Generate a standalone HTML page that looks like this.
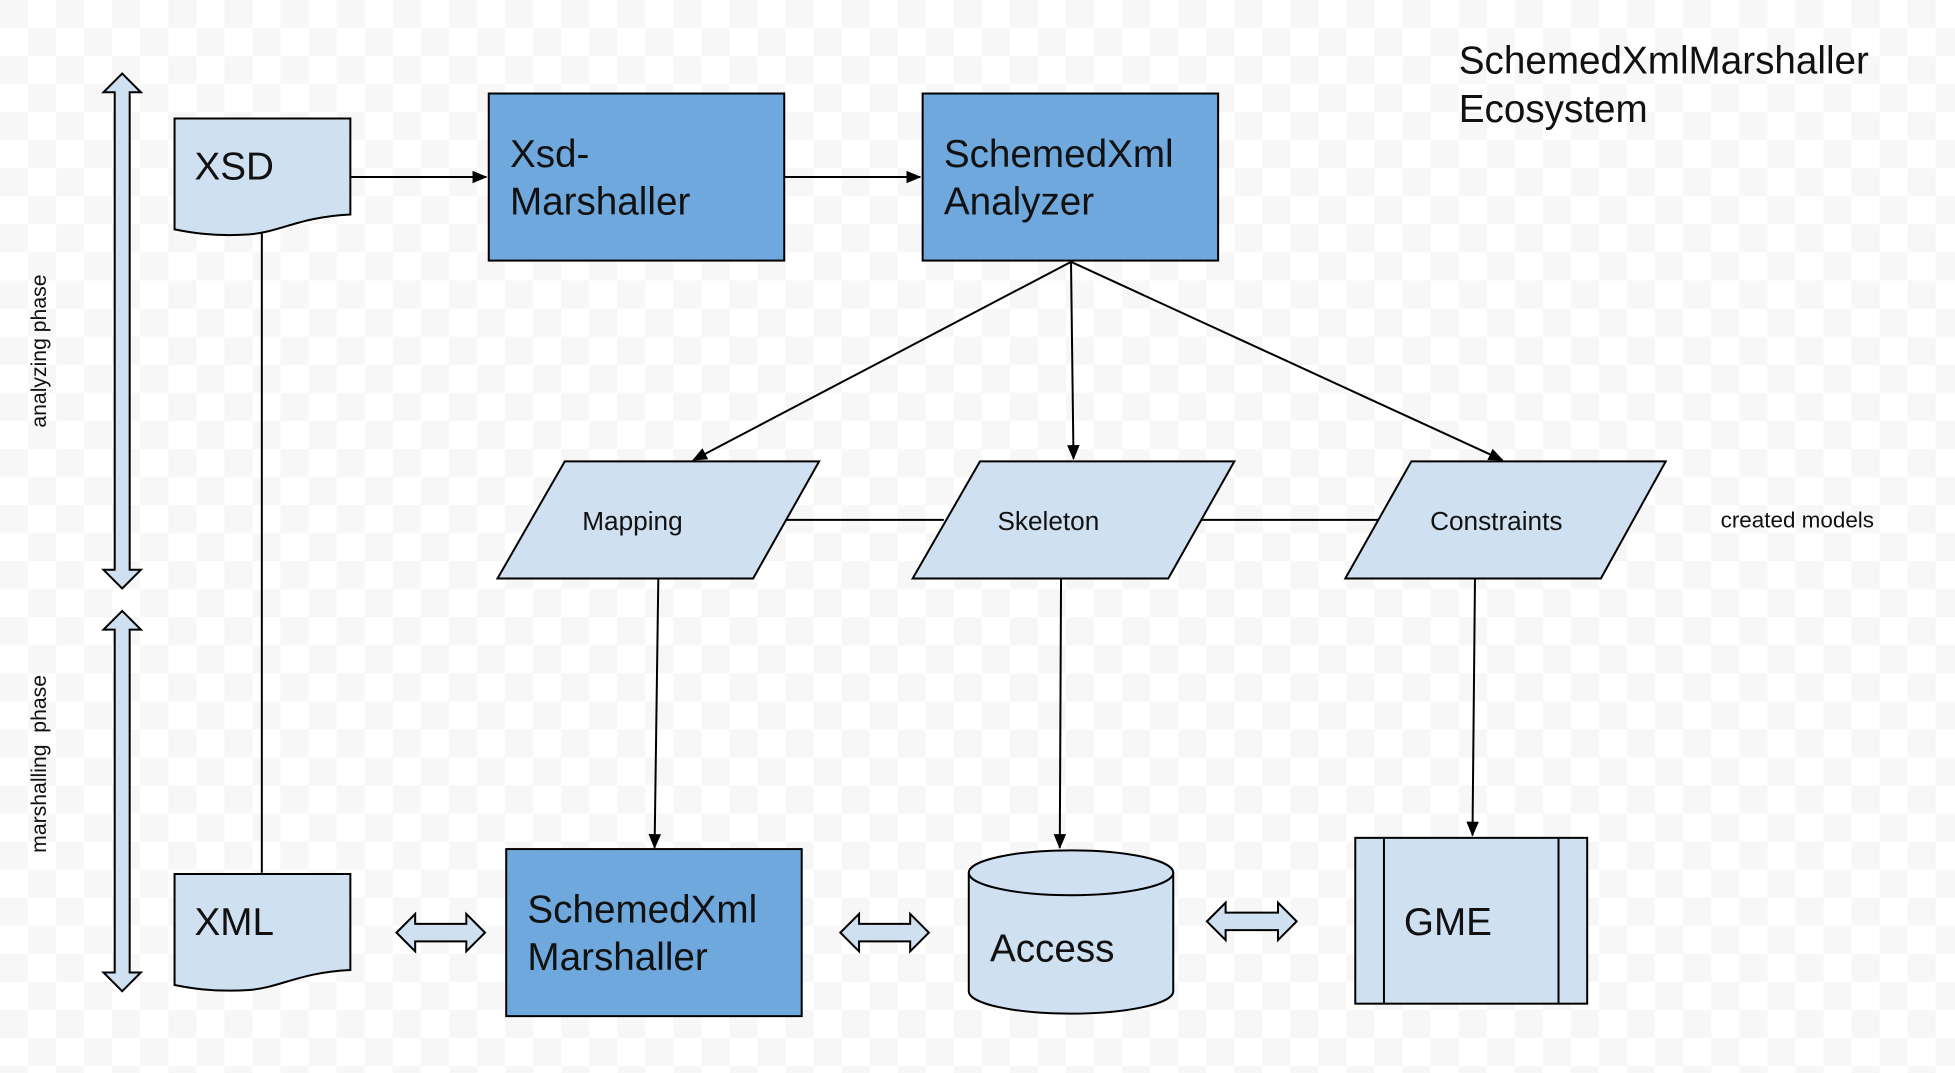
<!DOCTYPE html>
<html><head><style>html,body{margin:0;padding:0;background:#fff}svg{display:block}</style></head><body>
<svg width="1955" height="1073" viewBox="0 0 1568 860.6" preserveAspectRatio="none" xmlns="http://www.w3.org/2000/svg" font-family="Liberation Sans, Arial, sans-serif">
<defs>
<pattern id="chk" width="45" height="45" patternUnits="userSpaceOnUse"><rect width="45" height="45" fill="#fff"/><rect width="22.5" height="22.5" fill="#f7f7f7"/><rect x="22.5" y="22.5" width="22.5" height="22.5" fill="#f7f7f7"/></pattern>
<marker id="ar" markerWidth="12" markerHeight="10" refX="11" refY="5" orient="auto" markerUnits="userSpaceOnUse"><path d="M0,0 L12,5 L0,10 Z" fill="#000"/></marker>
</defs>
<rect width="1568" height="861" fill="url(#chk)"/>
<g stroke="#000" stroke-width="1.6" fill="none">
<line x1="210" y1="185" x2="210" y2="700"/>
<line x1="281" y1="142" x2="390" y2="142" marker-end="url(#ar)"/>
<line x1="629" y1="142" x2="738" y2="142" marker-end="url(#ar)"/>
<line x1="859" y1="210" x2="556" y2="369" marker-end="url(#ar)"/>
<line x1="859" y1="210" x2="861" y2="368" marker-end="url(#ar)"/>
<line x1="859" y1="210" x2="1205" y2="369" marker-end="url(#ar)"/>
<line x1="630" y1="417" x2="757" y2="417"/>
<line x1="962" y1="417" x2="1105" y2="417"/>
<line x1="528" y1="464" x2="525" y2="680" marker-end="url(#ar)"/>
<line x1="851" y1="464" x2="850" y2="680" marker-end="url(#ar)"/>
<line x1="1183" y1="464" x2="1181" y2="670" marker-end="url(#ar)"/>
</g>
<g stroke="#000" stroke-width="1.6">
<path d="M98,59 L113,74 L104,74 L104,457 L113,457 L98,472 L83,457 L92,457 L92,74 L83,74 Z" fill="#cfe0f0"/>
<path d="M98,490 L113,505 L104,505 L104,780 L113,780 L98,795 L83,780 L92,780 L92,505 L83,505 Z" fill="#cfe0f0"/>
<path d="M140,95 L281,95 L281,172 C240,174 225,186 200,188 C170,190 150,186 140,184 Z" fill="#cfe0f0"/>
<path d="M140,701 L281,701 L281,778 C240,780 225,792 200,794 C170,796 150,792 140,790 Z" fill="#cfe0f0"/>
<rect x="392" y="75" width="237" height="134" fill="#6fa8dc"/>
<rect x="740" y="75" width="237" height="134" fill="#6fa8dc"/>
<rect x="406" y="681" width="237" height="134" fill="#6fa8dc"/>
<path d="M453,370 L657,370 L604,464 L399,464 Z" fill="#cfe0f0"/>
<path d="M786,370 L990,370 L937,464 L732,464 Z" fill="#cfe0f0"/>
<path d="M1132,370 L1336,370 L1284,464 L1079,464 Z" fill="#cfe0f0"/>
<path d="M777,700 L777,795 A82,18 0 0 0 941,795 L941,700" fill="#cfe0f0"/>
<ellipse cx="859" cy="700" rx="82" ry="18" fill="#cfe0f0"/>
<rect x="1087" y="672" width="186" height="133" fill="#cfe0f0"/>
<line x1="1110" y1="672" x2="1110" y2="805"/>
<line x1="1250" y1="672" x2="1250" y2="805"/>
<path d="M318,748 L333,733 L333,741 L374,741 L374,733 L389,748 L374,763 L374,755 L333,755 L333,763 Z" fill="#cfe0f0"/>
<path d="M674,748 L689,733 L689,741 L730,741 L730,733 L745,748 L730,763 L730,755 L689,755 L689,763 Z" fill="#cfe0f0"/>
<path d="M968,739 L983,724 L983,732 L1025,732 L1025,724 L1040,739 L1025,754 L1025,746 L983,746 L983,754 Z" fill="#cfe0f0"/>
</g>
<g fill="#111" font-size="31">
<text x="156" y="144">XSD</text>
<text x="156" y="750">XML</text>
<text x="409" y="134">Xsd-</text><text x="409" y="172">Marshaller</text>
<text x="757" y="134">SchemedXml</text><text x="757" y="172">Analyzer</text>
<text x="423" y="740">SchemedXml</text><text x="423" y="778">Marshaller</text>
<text x="794" y="771">Access</text>
<text x="1126" y="750">GME</text>
<text x="1170" y="59">SchemedXmlMarshaller</text><text x="1170" y="98">Ecosystem</text>
</g>
<g fill="#111" font-size="21">
<text x="467" y="425">Mapping</text>
<text x="800" y="425">Skeleton</text>
<text x="1147" y="425">Constraints</text>
</g>
<text x="1380" y="423" font-size="18" fill="#111">created models</text>
<text transform="translate(37,343) rotate(-90)" font-size="17" fill="#111">analyzing phase</text>
<text transform="translate(37,684) rotate(-90)" font-size="17" fill="#111" xml:space="preserve">marshalling  phase</text>
</svg>
</body></html>
